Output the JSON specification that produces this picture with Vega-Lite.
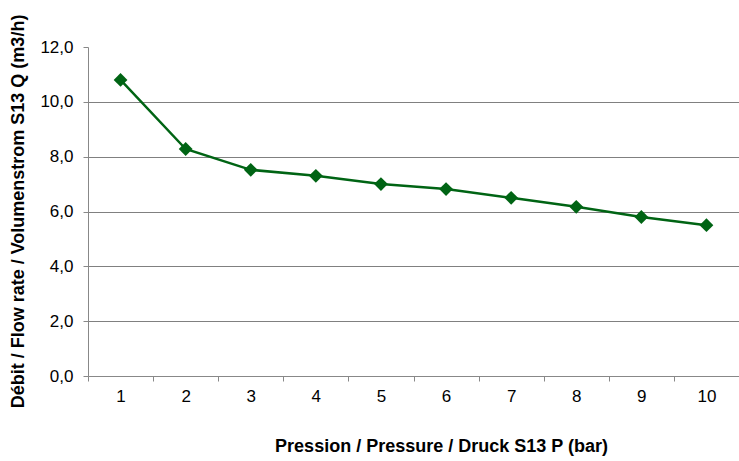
{
  "$schema": "https://vega.github.io/schema/vega-lite/v6.json",
  "autosize": "none",
  "width": 651,
  "height": 329,
  "padding": {"left": 88, "top": 47, "right": 0, "bottom": 85},
  "background": "white",
  "config": {
    "view": {"stroke": null},
    "font": "Liberation Sans"
  },
  "data": {
    "values": [
      {"p": 1, "q": 10.8},
      {"p": 2, "q": 8.28},
      {"p": 3, "q": 7.52},
      {"p": 4, "q": 7.3},
      {"p": 5, "q": 7.0},
      {"p": 6, "q": 6.82},
      {"p": 7, "q": 6.5},
      {"p": 8, "q": 6.17},
      {"p": 9, "q": 5.8},
      {"p": 10, "q": 5.5}
    ]
  },
  "encoding": {
    "x": {
      "field": "p",
      "type": "ordinal",
      "scale": {"type": "band", "paddingInner": 0, "paddingOuter": 0},
      "axis": {
        "title": "Pression / Pressure / Druck S13 P (bar)",
        "titleFont": "Liberation Sans",
        "titleFontSize": 18,
        "titleFontWeight": "bold",
        "titleColor": "black",
        "titleX": 353,
        "titleY": 70,
        "titleBaseline": "middle",
        "titleAlign": "center",
        "labelAngle": 0,
        "labelFontSize": 17,
        "labelColor": "black",
        "labelPadding": 7,
        "tickBand": "extent",
        "tickSize": 5,
        "tickColor": "#888888",
        "domainColor": "#888888",
        "grid": false
      }
    },
    "y": {
      "field": "q",
      "type": "quantitative",
      "scale": {"domain": [0, 12], "nice": false, "zero": true},
      "axis": {
        "title": "Débit / Flow rate / Volumenstrom S13 Q (m3/h)",
        "titleFont": "Liberation Sans",
        "titleFontSize": 18,
        "titleFontWeight": "bold",
        "titleColor": "black",
        "titleX": -70,
        "titleY": 164,
        "titleAngle": -90,
        "titleBaseline": "middle",
        "titleAlign": "center",
        "values": [0, 2, 4, 6, 8, 10, 12],
        "labelExpr": "replace(format(datum.value, '.1f'), '.', ',')",
        "labelFontSize": 17,
        "labelColor": "black",
        "labelPadding": 10,
        "tickSize": 5,
        "tickColor": "#888888",
        "domainColor": "#888888",
        "grid": true,
        "gridColor": "#808080",
        "gridOpacity": {"condition": {"test": "datum.value == 12 || datum.value == 0", "value": 0}, "value": 1}
      }
    }
  },
  "layer": [
    {
      "mark": {"type": "line", "color": "#006414", "strokeWidth": 2.5}
    },
    {
      "mark": {"type": "point", "shape": "diamond", "filled": true, "size": 190, "color": "#006414", "opacity": 1}
    }
  ]
}
